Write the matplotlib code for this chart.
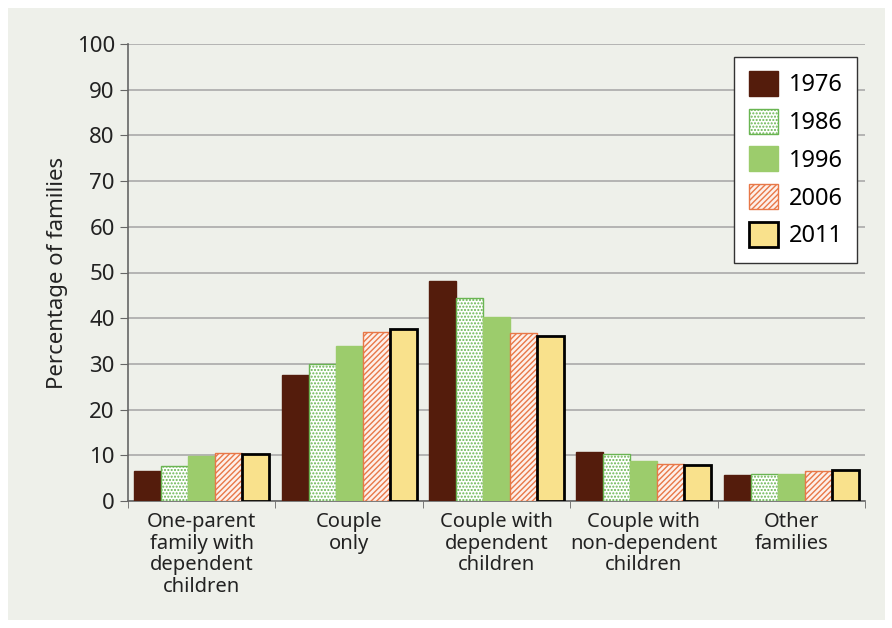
import numpy as np
import matplotlib.pyplot as plt
from matplotlib.patches import Rectangle

categories = ['One-parent\nfamily with\ndependent\nchildren', 'Couple\nonly',
              'Couple with\ndependent\nchildren', 'Couple with\nnon-dependent\nchildren',
              'Other\nfamilies']
years = ['1976', '1986', '1996', '2006', '2011']
v1976 = [6.6, 27.6, 48.1, 10.7, 5.7]
v1986 = [7.7, 30.0, 44.4, 10.3, 5.9]
v1996 = [9.8, 34.0, 40.3, 8.8, 5.9]
v2006 = [10.5, 37.0, 36.8, 8.1, 6.6]
v2011 = [10.3, 37.7, 36.1, 7.9, 6.8]
series = [v1976, v1986, v1996, v2006, v2011]

plt.rcParams['font.family'] = ['Noto Sans', 'DejaVu Sans']
bg = '#eef0ea'

fig = plt.figure(figsize=(8.92, 6.28), dpi=100)
fig.patch.set_facecolor('white')
fig.patches.append(Rectangle((8/892, 8/628), 877/892, 612/628, transform=fig.transFigure,
                             facecolor=bg, edgecolor='none', zorder=-10))
ax = fig.add_axes([128/892, 127/628, 737/892, 457/628])
ax.set_facecolor(bg)

styles = [
    dict(color='#541c0c', edgecolor='#541c0c'),
    dict(color='white', edgecolor='#6ab552', hatch='.....'),
    dict(color='#9ccc6c', edgecolor='#9ccc6c'),
    dict(color='#fdf0ea', edgecolor='#e87848', hatch='//////'),
    dict(color='#f9e18c', edgecolor='black', linewidth=2),
]

x = np.arange(len(categories))
w = 0.183
for i, (vals, yr, st) in enumerate(zip(series, years, styles)):
    lw = st.pop('linewidth', 1)
    ax.bar(x + (i - 2) * w, vals, w, label=yr, linewidth=lw, zorder=3, **st)

ax.set_xlim(-0.5, len(categories) - 0.5)
ax.set_ylim(0, 100)
ax.set_yticks(range(0, 101, 10))
ax.yaxis.grid(True, color='#aaaaaa', linewidth=1.2, zorder=0)
ax.set_xticks(x)
ax.set_xticklabels(categories, fontsize=14.5, color='#222222', linespacing=1.1)
ax.set_xticks(np.arange(-0.5, len(categories)), minor=True)
ax.tick_params(axis='x', which='major', length=0, pad=8)
ax.tick_params(axis='x', which='minor', length=5, color='#666666')
ax.tick_params(axis='y', length=6, color='#666666', labelsize=16, labelcolor='#222222')
for s in ['top', 'right']:
    ax.spines[s].set_visible(False)
for s in ['left', 'bottom']:
    ax.spines[s].set_color('#666666')
    ax.spines[s].set_linewidth(1.2)
ax.set_ylabel('Percentage of families', fontsize=16, color='#222222', labelpad=6)

leg = ax.legend(loc='upper right', bbox_to_anchor=(0.989, 0.972), fontsize=17,
                handlelength=1.25, handleheight=1.25, fancybox=False, framealpha=1,
                edgecolor='#333333', borderpad=0.6, labelspacing=0.48, handletextpad=0.45,
                borderaxespad=0)
leg.get_frame().set_linewidth(1.0)

fig.savefig('out.png', dpi=100, facecolor=fig.get_facecolor())
